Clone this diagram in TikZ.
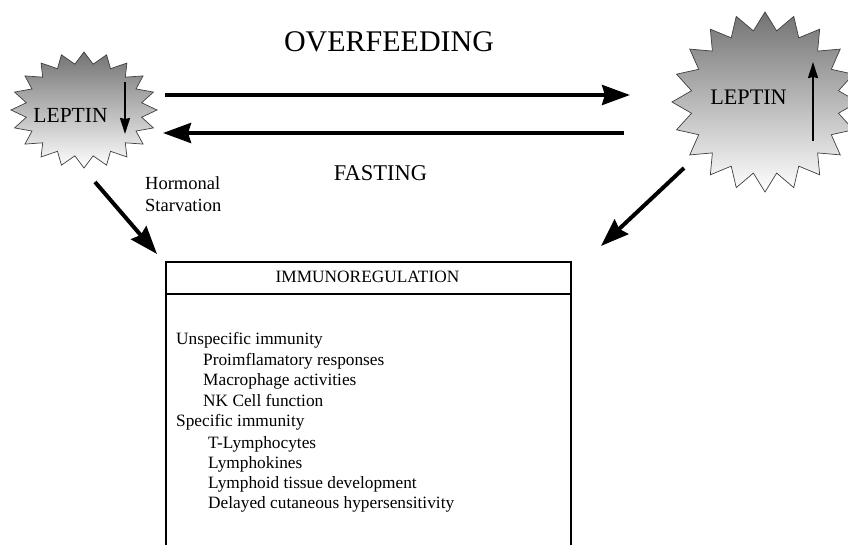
\documentclass[tikz,border=0pt]{standalone}
\usepackage{fontspec}
\setmainfont{Liberation Serif}
\usetikzlibrary{arrows.meta}
\begin{document}
\begin{tikzpicture}[x=1pt,y=-1pt,
  bigarrow/.style={line width=4pt,-{Stealth[length=28pt,width=20pt,inset=3pt]}},
  smallarrow/.style={line width=1.8pt,-{Stealth[length=16pt,width=10pt,inset=1pt]}},
  starfill/.style={draw=black!75,line width=0.7pt,top color=black!55,bottom color=white},
  lbl/.style={inner sep=0pt,anchor=base},
  item/.style={inner sep=0pt,anchor=base west,font=\fontsize{17.3}{20}\selectfont}]
\useasboundingbox (0,0) rectangle (848,545);
\clip (0,0) rectangle (848,545);

% left starburst
\begin{scope}[shift={(84,110)}]
\draw[starfill] (0:73 and 58) \foreach \k [evaluate=\k as \r using {mod(\k,2)==0 ? 1 : 0.8}] in {1,...,39} { -- ({\k*9}:{73*\r} and {58*\r}) } -- cycle;
\end{scope}
% right starburst
\begin{scope}[shift={(765,102)}]
\draw[starfill] (0:93 and 90) \foreach \k [evaluate=\k as \r using {mod(\k,2)==0 ? 1 : 0.8}] in {1,...,39} { -- ({\k*9}:{93*\r} and {90*\r}) } -- cycle;
\end{scope}

% labels in stars
\node[lbl,font=\fontsize{21.5}{26}\selectfont] (lepL) at (70.5,123) {LEPTIN};
\node[lbl,font=\fontsize{22.2}{26}\selectfont] (lepR) at (748.5,105) {LEPTIN};
\coordinate (dnS) at (125,82);  \coordinate (dnE) at (125,134);
\coordinate (upS) at (813,141); \coordinate (upE) at (813,62);
\draw[smallarrow] (dnS) -- (dnE);
\draw[smallarrow] (upS) -- (upE);

% titles
\node[lbl,font=\fontsize{30}{36}\selectfont] (over) at (389,52) {OVERFEEDING};
\node[lbl,font=\fontsize{22.5}{27}\selectfont] (fast) at (380.5,181) {FASTING};
\node[inner sep=0pt,anchor=base west,font=\fontsize{18.5}{22}\selectfont] (horm1) at (145,190) {Hormonal};
\node[inner sep=0pt,anchor=base west,font=\fontsize{18.5}{22}\selectfont] (horm2) at (145,212) {Starvation};

% big arrows
\coordinate (a1s) at (165,95);  \coordinate (a1e) at (630,95);
\coordinate (a2s) at (624,133); \coordinate (a2e) at (163,133);
\coordinate (d1s) at (95,182);  \coordinate (d1e) at (157,254);
\coordinate (d2s) at (684,168); \coordinate (d2e) at (601,246);
\draw[bigarrow] (a1s) -- (a1e);
\draw[bigarrow] (a2s) -- (a2e);
\draw[bigarrow] (d1s) -- (d1e);
\draw[bigarrow] (d2s) -- (d2e);

% box
\draw[line width=1.4pt] (166,550) -- (166,262) -- (571,262) -- (571,550);
\draw[line width=2pt] (166,294) -- (571,294);
\node[lbl,font=\fontsize{17.3}{20}\selectfont] (immh) at (367.5,283) {IMMUNOREGULATION};

\node[item] (i1) at (176,344) {Unspecific immunity};
\node[item] (i2) at (203,365) {Proimflamatory responses};
\node[item] (i3) at (203,385) {Macrophage activities};
\node[item] (i4) at (203,406) {NK Cell function};
\node[item] (i5) at (176,426) {Specific immunity};
\node[item] (i6) at (208,448) {T-Lymphocytes};
\node[item] (i7) at (208,468) {Lymphokines};
\node[item] (i8) at (208,488) {Lymphoid tissue development};
\node[item] (i9) at (208,508) {Delayed cutaneous hypersensitivity};
\end{tikzpicture}
\end{document}
